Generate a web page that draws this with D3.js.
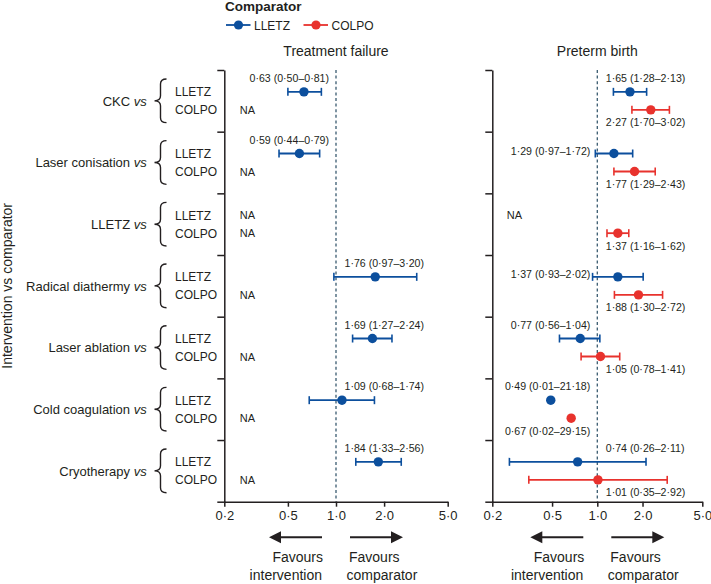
<!DOCTYPE html>
<html>
<head>
<meta charset="utf-8">
<script src="https://cdn.jsdelivr.net/npm/d3@7/dist/d3.min.js"></script>
<style>
  html, body { margin: 0; padding: 0; background: #fff; }
  svg { display: block; font-family: "Liberation Sans", Arial, sans-serif; }
</style>
</head>
<body>
<svg id="chart" width="711" height="584"></svg>
<script>
// ---------- DATA ----------
const groups = ["CKC", "Laser conisation", "LLETZ", "Radical diathermy", "Laser ablation", "Cold coagulation", "Cryotherapy"];
const comparators = ["LLETZ", "COLPO"];
// [estimate, lower, upper]; null = NA
const failureLLETZ = [[0.63, 0.50, 0.81], [0.59, 0.44, 0.79], null, [1.76, 0.97, 3.20], [1.69, 1.27, 2.24], [1.09, 0.68, 1.74], [1.84, 1.33, 2.56]];
const failureCOLPO = [null, null, null, null, null, null, null];
const pretermLLETZ = [[1.65, 1.28, 2.13], [1.29, 0.97, 1.72], null, [1.37, 0.93, 2.02], [0.77, 0.56, 1.04], [0.49, 0.01, 21.18], [0.74, 0.26, 2.11]];
const pretermCOLPO = [[2.27, 1.70, 3.02], [1.77, 1.29, 2.43], [1.37, 1.16, 1.62], [1.88, 1.30, 2.72], [1.05, 0.78, 1.41], [0.67, 0.02, 29.15], [1.01, 0.35, 2.92]];
const xTicks = [0.2, 0.5, 1, 2, 5];
const panelTitles = ["Treatment failure", "Preterm birth"];

// ---------- LAYOUT / STYLE ----------
// label placement: a = above, b = below, i = inline ; l = left of null line, r = right
const placeFailureLLETZ = ["al", "al", null, "ar", "ar", "ar", "ar"];
const placeFailureCOLPO = [null, null, null, null, null, null, null];
const placePretermLLETZ = ["ar", "il", null, "il", "al", "al", "ar"];
const placePretermCOLPO = ["br", "br", "br", "br", "br", "bl", "br"];

const colors = { LLETZ: "#0c4f9d", COLPO: "#e8322d" };
const ink = "#231f20";
const dashColor = "#3a5b70";

const svg = d3.select("#chart");

const yTop = 70, yBottom = 501.7;
const yBand = d3.scaleBand().domain(groups).range([yTop, yBottom]).padding(0);
const yBoundary = d3.scaleLinear().domain([0, groups.length]).range([yTop, yBottom]);
const rowY = (g, c) => yBand(g) + yBand.bandwidth() / 2 + (c === "LLETZ" ? -9 : 9);

const fmt2 = v => v.toFixed(2).replace(".", "\u00B7");
const fmt1 = v => v.toFixed(1).replace(".", "\u00B7");

// ---------- LEGEND ----------
svg.append("text").attr("x", 225).attr("y", 11).attr("font-size", 13.5).attr("font-weight", "bold")
  .attr("fill", ink).text("Comparator");
const legendX = d3.scaleOrdinal().domain(comparators).range([226, 303.5]);
comparators.forEach(c => {
  const lx = legendX(c);
  const lg = svg.append("g");
  lg.append("line").attr("x1", lx).attr("x2", lx + 24.5).attr("y1", 25).attr("y2", 25)
    .attr("stroke", colors[c]).attr("stroke-width", 1.8);
  lg.append("circle").attr("cx", lx + 12.5).attr("cy", 25).attr("r", 4.6).attr("fill", colors[c]);
  lg.append("text").attr("x", lx + 28).attr("y", 29.5).attr("font-size", 12).attr("fill", ink).text(c);
});

// ---------- ROW LABELS ----------
const labelG = svg.append("g");
groups.forEach(g => {
  const cy = yBand(g) + yBand.bandwidth() / 2;
  const t = labelG.append("text").attr("x", 146.7).attr("y", cy + 4.8).attr("text-anchor", "end")
    .attr("font-size", 13).attr("fill", ink);
  t.append("tspan").text(g + " ");
  t.append("tspan").attr("font-style", "italic").text("vs");
  // brace
  const y0 = yBand(g) + 9, y1 = yBand(g) + yBand.bandwidth() - 9;
  const xe = 166.5, xs = 160.5, xt = 154.5;
  const p = d3.path();
  p.moveTo(xe, y0);
  p.quadraticCurveTo(xs, y0, xs, y0 + 5);
  p.lineTo(xs, cy - 5);
  p.quadraticCurveTo(xs, cy, xt, cy);
  p.quadraticCurveTo(xs, cy, xs, cy + 5);
  p.lineTo(xs, y1 - 5);
  p.quadraticCurveTo(xs, y1, xe, y1);
  labelG.append("path").attr("d", p.toString()).attr("fill", "none").attr("stroke", ink).attr("stroke-width", 1.4);
  comparators.forEach(c => {
    labelG.append("text").attr("x", 175).attr("y", rowY(g, c) + 4.4).attr("font-size", 12)
      .attr("fill", ink).text(c);
  });
});

// y-axis title
svg.append("text").attr("transform", `translate(12,${(yTop + yBottom) / 2}) rotate(-90)`)
  .attr("text-anchor", "middle").attr("font-size", 14).attr("fill", ink).text("Intervention vs comparator");

// ---------- PANELS ----------
function drawPanel(xRange, title, series, places) {
  const x = d3.scaleLog().domain([0.2, 5]).range(xRange);
  const g = svg.append("g");
  const x1 = x(1);

  // title
  g.append("text").attr("x", x1).attr("y", 56).attr("text-anchor", "middle").attr("font-size", 14)
    .attr("fill", ink).text(title);

  // null line
  g.append("line").attr("x1", x1).attr("x2", x1).attr("y1", yTop).attr("y2", yBottom)
    .attr("stroke", dashColor).attr("stroke-width", 1.3).attr("stroke-dasharray", "3,2.6");

  // left axis (group boundaries)
  const la = g.append("g").attr("transform", `translate(${xRange[0]},0)`)
    .call(d3.axisLeft(yBoundary).tickValues(d3.range(0, groups.length + 1)).tickFormat("").tickSize(7).tickSizeOuter(0));
  la.selectAll("path, line").attr("stroke", ink).attr("stroke-width", 1.5);

  // bottom axis
  const ba = g.append("g").attr("transform", `translate(0,${yBottom})`)
    .call(d3.axisBottom(x).tickValues(xTicks).tickFormat(fmt1).tickSize(5).tickSizeOuter(0).tickPadding(4));
  ba.selectAll("path, line").attr("stroke", ink).attr("stroke-width", 1.5);
  ba.selectAll("text").attr("font-size", 13).attr("fill", ink).attr("font-family", "Liberation Sans, Arial, sans-serif");

  // data
  comparators.forEach(c => {
    const vals = series[c];
    const pl = places[c];
    groups.forEach((grp, i) => {
      const y = rowY(grp, c);
      const d = vals[i];
      if (!d) {
        if (c === "LLETZ" && grp === "LLETZ" || series.naAll || c === "COLPO") {
          g.append("text").attr("x", x(0.25)).attr("y", y + 4).attr("font-size", 11).attr("fill", ink).text("NA");
        } else {
          g.append("text").attr("x", x(0.25)).attr("y", y + 4).attr("font-size", 11).attr("fill", ink).text("NA");
        }
        return;
      }
      const [est, lo, hi] = d;
      const col = colors[c];
      const inDomain = lo >= 0.2 && hi <= 5;
      if (inDomain) {
        g.append("line").attr("x1", x(lo)).attr("x2", x(hi)).attr("y1", y).attr("y2", y)
          .attr("stroke", col).attr("stroke-width", 1.8);
        [lo, hi].forEach(v => {
          g.append("line").attr("x1", x(v)).attr("x2", x(v)).attr("y1", y - 4).attr("y2", y + 4)
            .attr("stroke", col).attr("stroke-width", 1.6);
        });
      }
      g.append("circle").attr("cx", x(est)).attr("cy", y).attr("r", 4.7).attr("fill", col);
      // label
      const p = pl[i];
      const label = `${fmt2(est)} (${fmt2(lo)}\u2013${fmt2(hi)})`;
      const vert = p[0] === "a" ? -10 : p[0] === "b" ? 16.5 : 1.5;
      const left = p[1] === "l";
      g.append("text").attr("x", left ? x1 - 7 : x1 + 8.5).attr("y", y + vert)
        .attr("text-anchor", left ? "end" : "start").attr("font-size", 10.6).attr("fill", ink).text(label);
    });
  });

  // favours arrows
  const ay = 537.3;
  const arrowG = g.append("g");
  [-1, 1].forEach(dir => {
    const tail = x1 + dir * 14, tip = x1 + dir * 67;
    arrowG.append("line").attr("x1", tail).attr("x2", tip - dir * 10).attr("y1", ay).attr("y2", ay)
      .attr("stroke", ink).attr("stroke-width", 2);
    arrowG.append("path").attr("d", `M${tip},${ay}L${tip - dir * 12},${ay - 6}L${tip - dir * 12},${ay + 6}Z`).attr("fill", ink);
  });
  g.append("text").attr("x", x1 - 13).attr("y", 562).attr("text-anchor", "end").attr("font-size", 14).attr("fill", ink).text("Favours");
  g.append("text").attr("x", x1 - 14).attr("y", 579.5).attr("text-anchor", "end").attr("font-size", 14).attr("fill", ink).text("intervention");
  g.append("text").attr("x", x1 + 13).attr("y", 562).attr("text-anchor", "start").attr("font-size", 14).attr("fill", ink).text("Favours");
  g.append("text").attr("x", x1 + 10.5).attr("y", 579.5).attr("text-anchor", "start").attr("font-size", 14).attr("fill", ink).text("comparator");
}

drawPanel([224.3, 447.7], panelTitles[0], { LLETZ: failureLLETZ, COLPO: failureCOLPO }, { LLETZ: placeFailureLLETZ, COLPO: placeFailureCOLPO });
drawPanel([492.3, 702.3], panelTitles[1], { LLETZ: pretermLLETZ, COLPO: pretermCOLPO }, { LLETZ: placePretermLLETZ, COLPO: placePretermCOLPO });
</script>
</body>
</html>
